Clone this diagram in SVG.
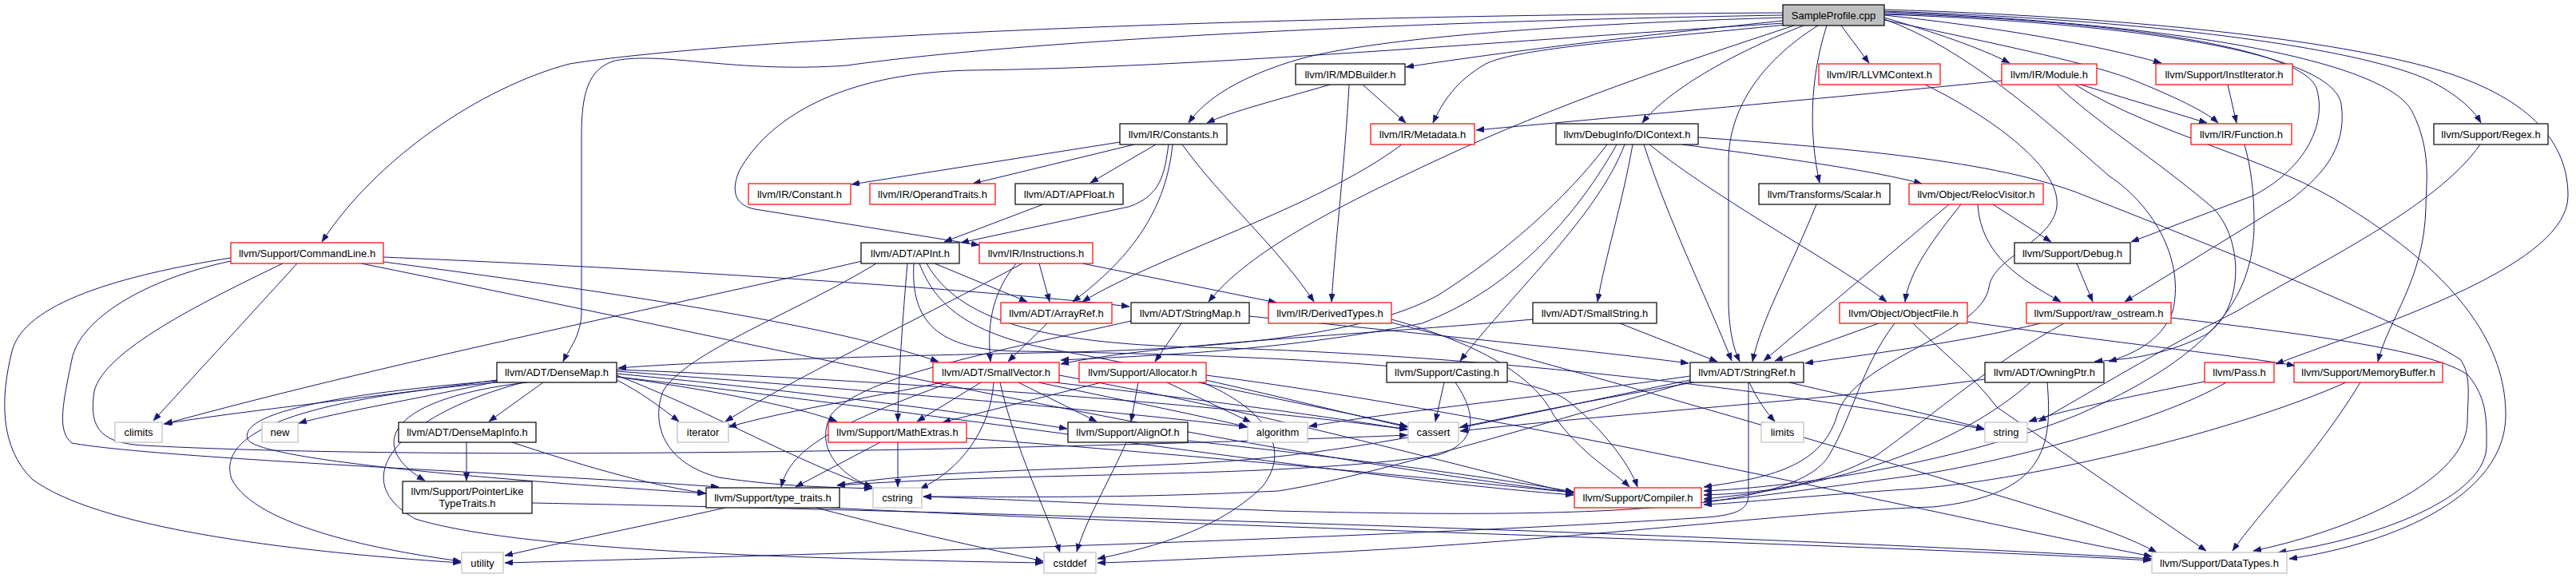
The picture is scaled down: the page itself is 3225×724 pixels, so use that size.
<svg xmlns="http://www.w3.org/2000/svg" width="3225" height="724" viewBox="0 0 3225 724">
<defs>
<style>
.e{fill:none;stroke:#191970;stroke-width:1;marker-end:url(#a)}
.b rect{fill:#fff;stroke:#000;stroke-width:1.2}
.r rect{fill:#fff;stroke:#ff0000;stroke-width:1.2}
.g rect{fill:#fff;stroke:#bfbfbf;stroke-width:1.2}
.root rect{fill:#bfbfbf;stroke:#000;stroke-width:1.2}
text{font-family:"Liberation Sans",Arial,sans-serif;font-size:13px;text-anchor:middle;fill:#000}
</style>
<marker id="a" markerUnits="userSpaceOnUse" markerWidth="11" markerHeight="8" refX="10" refY="3.75" orient="auto"><path d="M0,0 L10,3.75 L0,7.5 z" fill="#191970" stroke="#191970" stroke-width="0.5"/></marker>
</defs>
<rect width="3225" height="724" fill="#fff"/>
<g id="edges">
<path class="e" d="M2232,16 C1500,20 900,50 713,80 C600,110 470,200 403,303"/>
<path class="e" d="M2232,19 C1800,26 1300,48 1060,82 C920,92 830,64 770,76 C735,86 728,120 728,170 L728,390 C728,420 712,438 705,453"/>
<path class="e" d="M2234,29 C1900,50 1500,85 1213,88 C1050,92 960,150 925,215 C913,245 925,258 945,262 L1226,307"/>
<path class="e" d="M2232,26 C2000,50 1850,70 1760,84"/>
<path class="e" d="M2233,22 C1900,32 1700,52 1620,76 C1555,96 1510,122 1488,154"/>
<path class="e" d="M2236,31 C2050,50 1900,60 1860,80 C1822,102 1806,128 1794,154"/>
<path class="e" d="M2258,32 C2180,62 2090,110 2056,154"/>
<path class="e" d="M2246,32 C2100,80 1950,130 1800,200 C1650,270 1560,320 1513,378"/>
<path class="e" d="M2287,32 C2265,100 2265,170 2278,229"/>
<path class="e" d="M2305,32 L2340,79"/>
<path class="e" d="M2276,32 C2200,80 2165,140 2164,200 L2164,380 C2165,420 2172,440 2178,453"/>
<path class="e" d="M2359,22 C2420,40 2480,60 2516,79"/>
<path class="e" d="M2359,19 C2500,34 2620,55 2706,79"/>
<path class="e" d="M2359,25 C2500,55 2620,80 2670,100 C2720,120 2762,140 2777,154"/>
<path class="e" d="M2359,14 C2700,25 2950,60 3040,100 C3075,118 3095,135 3106,154"/>
<path class="e" d="M2359,17 C2650,25 2880,60 2900,110 C2915,160 2880,215 2821,245 L2668,303"/>
<path class="e" d="M2359,18 C2700,30 2920,70 2931,130 C2940,190 2900,225 2868,250 L2660,378"/>
<path class="e" d="M2359,15 C2750,30 2990,80 3020,140 C3045,190 3037,230 3037,260 C3035,350 2990,400 2977,453"/>
<path class="e" d="M2359,12 C2700,22 2950,55 3060,90 C3170,125 3215,180 3215,245 C3215,330 3000,400 2849,456"/>
<path class="e" d="M2359,24 C2460,60 2560,150 2640,220 C2700,260 2735,330 2720,390 C2705,430 2665,445 2640,453"/>
<path class="e" d="M1665,106 C1600,125 1540,140 1511,154"/>
<path class="e" d="M1706,106 L1760,154"/>
<path class="e" d="M1689,106 C1684,200 1672,300 1667,378"/>
<path class="e" d="M1755,181 C1650,260 1450,320 1355,378"/>
<path class="e" d="M2506,101 C2400,112 2100,140 1848,163"/>
<path class="e" d="M2605,106 L2763,154"/>
<path class="e" d="M2575,106 C2620,150 2700,200 2770,260 C2810,300 2810,390 2760,420 C2700,450 2650,450 2622,453"/>
<path class="e" d="M2598,106 C2700,170 2850,200 2940,260 C3100,360 3137,450 3137,520 C3137,620 3000,680 2866,700"/>
<path class="e" d="M2789,106 L2800,154"/>
<path class="e" d="M2410,106 C2480,140 2570,200 2575,250 C2580,300 2495,320 2490,360 C2480,420 2320,450 2300,520 C2280,590 2200,600 2133,610"/>
<path class="e" d="M2810,181 C2818,210 2822,240 2822,280 C2822,380 2760,450 2600,520 C2450,580 2250,610 2133,615"/>
<path class="e" d="M3105,181 C3050,260 2900,330 2800,390 C2700,440 2620,490 2552,528"/>
<path class="e" d="M1402,178 L1066,231"/>
<path class="e" d="M1420,181 L1218,230"/>
<path class="e" d="M1447,181 L1365,229"/>
<path class="e" d="M1463,181 C1458,215 1455,245 1413,259 L1203,304"/>
<path class="e" d="M1468,181 C1460,260 1420,320 1343,378"/>
<path class="e" d="M1480,181 C1530,250 1600,310 1645,378"/>
<path class="e" d="M1306,256 L1182,303"/>
<path class="e" d="M2012,181 C1960,250 1880,320 1800,370 C1700,425 1500,438 1300,442 C1000,448 850,455 774,461"/>
<path class="e" d="M2024,181 C1980,260 1900,360 1780,405 C1600,440 1450,445 1328,451"/>
<path class="e" d="M2034,181 C2000,270 1900,360 1828,452"/>
<path class="e" d="M2044,181 C2030,260 2010,320 2000,378"/>
<path class="e" d="M2058,181 C2090,280 2140,380 2168,452"/>
<path class="e" d="M2065,181 C2150,250 2300,330 2362,378"/>
<path class="e" d="M2106,181 C2250,200 2350,215 2406,230"/>
<path class="e" d="M2126,172 C2300,185 2500,200 2610,245 C2800,320 3000,400 3080,450 C3095,470 3089,500 3089,530 C3085,610 2920,670 2821,690"/>
<path class="e" d="M2274,256 C2240,340 2205,400 2194,453"/>
<path class="e" d="M2455,256 C2420,300 2390,340 2385,378"/>
<path class="e" d="M2440,256 L2208,452"/>
<path class="e" d="M2476,256 C2480,320 2530,350 2580,378"/>
<path class="e" d="M2495,256 L2568,303"/>
<path class="e" d="M1079,327 C900,370 500,450 206,531"/>
<path class="e" d="M1136,330 C1130,400 1125,470 1124,528"/>
<path class="e" d="M1097,330 C1000,390 860,440 830,490 C815,530 830,580 900,598 C980,610 1040,610 1092,612"/>
<path class="e" d="M1170,330 L1286,378"/>
<path class="e" d="M1144,330 C1140,400 1170,440 1280,440 C1600,445 1900,460 1960,500 C2000,530 2040,580 2050,610"/>
<path class="e" d="M1151,330 C1170,380 1210,420 1330,440 C1500,470 1650,510 1762,535"/>
<path class="e" d="M1160,330 C1200,400 1300,430 1500,435 C1900,445 2300,500 2484,538"/>
<path class="e" d="M1301,330 L1314,378"/>
<path class="e" d="M1272,330 C1240,370 1236,410 1240,453"/>
<path class="e" d="M1280,330 C1150,400 1000,470 908,528"/>
<path class="e" d="M1355,330 L1598,379"/>
<path class="e" d="M1311,405 L1262,453"/>
<path class="e" d="M1416,402 C1250,440 1080,470 1040,520 C1020,560 1050,595 1092,610"/>
<path class="e" d="M1479,405 L1446,453"/>
<path class="e" d="M1564,396 C1800,420 2000,440 2114,455"/>
<path class="e" d="M1742,400 C1850,430 1920,470 1945,520 C1980,570 2020,590 2040,610"/>
<path class="e" d="M1742,404 C2000,470 2300,560 2500,620 C2600,650 2660,670 2700,692"/>
<path class="e" d="M1919,400 C1700,420 1450,430 1328,456"/>
<path class="e" d="M2028,405 L2150,453"/>
<path class="e" d="M2352,405 L2222,452"/>
<path class="e" d="M2372,405 C2330,460 2320,520 2290,570 C2250,640 2000,650 1600,640 C1400,632 1250,625 1156,622"/>
<path class="e" d="M2463,403 C2650,430 2800,445 2873,458"/>
<path class="e" d="M2395,405 C2430,440 2470,470 2500,510 L2762,690"/>
<path class="e" d="M2600,330 L2620,378"/>
<path class="e" d="M2555,405 C2450,430 2330,445 2260,455"/>
<path class="e" d="M2584,405 C2500,450 2420,520 2350,570 C2280,610 2200,618 2133,620"/>
<path class="e" d="M2718,398 C2900,420 3050,440 3090,470 C3115,500 3113,530 3113,560 C3110,630 2950,680 2852,692"/>
<path class="e" d="M2485,475 C2300,500 2000,520 1828,540"/>
<path class="e" d="M2542,479 C2450,560 2300,610 2133,625"/>
<path class="e" d="M2563,479 C2570,560 2560,620 2420,635 C2250,640 1950,680 1600,695 C1500,700 1420,704 1374,705"/>
<path class="e" d="M2760,478 C2650,500 2580,515 2540,528"/>
<path class="e" d="M2787,479 C2700,530 2500,580 2400,595 C2250,615 2180,625 2133,628"/>
<path class="e" d="M2937,479 C2800,540 2550,600 2400,612 C2250,622 2180,630 2133,632"/>
<path class="e" d="M2955,479 C2900,570 2830,640 2795,690"/>
<path class="e" d="M289,323 C150,345 30,380 15,440 C0,500 0,560 40,600 C120,660 350,690 577,705"/>
<path class="e" d="M289,327 C180,350 100,400 90,450 C80,500 70,540 90,555 C200,575 700,595 900,610"/>
<path class="e" d="M354,330 C250,380 130,440 118,490 C110,540 130,555 180,558 C600,580 1400,560 1762,545"/>
<path class="e" d="M372,330 L192,527"/>
<path class="e" d="M480,322 C900,340 1250,365 1414,384"/>
<path class="e" d="M480,328 C800,370 1050,410 1175,453"/>
<path class="e" d="M452,330 C900,420 1500,560 1970,617"/>
<path class="e" d="M622,476 C450,500 300,515 205,531"/>
<path class="e" d="M622,478 C520,500 430,515 374,530"/>
<path class="e" d="M680,479 L612,528"/>
<path class="e" d="M622,479 C380,500 270,540 290,600 C320,660 480,690 577,703"/>
<path class="e" d="M622,477 C400,495 300,520 310,550 C320,575 600,600 884,618"/>
<path class="e" d="M660,479 C480,500 460,560 532,602"/>
<path class="e" d="M655,479 C500,520 430,600 520,650 C650,690 1000,700 1306,705"/>
<path class="e" d="M772,476 C800,490 825,508 850,528"/>
<path class="e" d="M772,472 C900,490 1000,510 1048,528"/>
<path class="e" d="M772,468 C1000,490 1200,515 1336,537"/>
<path class="e" d="M772,465 C1100,490 1400,515 1561,535"/>
<path class="e" d="M772,463 C1200,480 1600,515 1762,538"/>
<path class="e" d="M772,470 C900,520 1000,580 1092,610"/>
<path class="e" d="M772,472 C1200,520 1700,600 1970,620"/>
<path class="e" d="M584,554 L584,602"/>
<path class="e" d="M641,554 C720,580 800,605 883,618"/>
<path class="e" d="M666,630 C1200,640 2200,670 2694,700"/>
<path class="e" d="M908,636 C800,660 700,680 632,696"/>
<path class="e" d="M1022,636 C1150,670 1250,690 1306,703"/>
<path class="e" d="M1040,636 C1500,660 2300,680 2693,702"/>
<path class="e" d="M1102,554 L996,610"/>
<path class="e" d="M1124,554 L1124,610"/>
<path class="e" d="M1210,549 C1500,570 1800,600 1970,617"/>
<path class="e" d="M1410,554 C1390,600 1360,650 1348,691"/>
<path class="e" d="M1487,552 C1700,575 1880,600 1970,616"/>
<path class="e" d="M1180,479 C1080,500 980,515 912,535"/>
<path class="e" d="M1228,479 L1148,528"/>
<path class="e" d="M1275,479 L1373,528"/>
<path class="e" d="M1300,479 C1400,500 1500,520 1562,535"/>
<path class="e" d="M1320,479 C1500,500 1650,520 1762,538"/>
<path class="e" d="M1252,479 C1270,560 1310,640 1327,692"/>
<path class="e" d="M1244,479 C1240,540 1200,590 1152,612"/>
<path class="e" d="M1190,479 C1050,530 990,560 978,610"/>
<path class="e" d="M1326,470 C1600,520 1850,590 1970,618"/>
<path class="e" d="M1379,479 L1180,529"/>
<path class="e" d="M1425,479 L1416,528"/>
<path class="e" d="M1461,479 L1566,529"/>
<path class="e" d="M1500,479 C1600,500 1700,520 1762,534"/>
<path class="e" d="M1505,479 C1580,510 1620,560 1580,610 C1520,670 1420,690 1374,700"/>
<path class="e" d="M1510,470 C1900,520 2400,640 2694,697"/>
<path class="e" d="M1808,479 L1797,528"/>
<path class="e" d="M1822,479 C1850,520 1850,555 1800,570 C1600,600 1300,590 1048,608"/>
<path class="e" d="M2116,476 C1900,520 1700,570 1500,580 C1300,590 1150,590 1048,608"/>
<path class="e" d="M2116,478 C1900,540 1700,600 1600,615 C1400,625 1250,622 1156,622"/>
<path class="e" d="M2116,471 C1950,495 1750,515 1639,534"/>
<path class="e" d="M2120,479 C2000,500 1900,520 1828,535"/>
<path class="e" d="M2190,479 C2200,500 2210,515 2222,528"/>
<path class="e" d="M2240,479 C2330,500 2420,520 2484,537"/>
<path class="e" d="M2189,479 L2189,620 C2189,640 2170,645 2137,648 C1800,670 1200,690 632,705"/>
</g>
<g id="n_root" class="root"><rect x="2232" y="6" width="127" height="26"/><text x="2295.5" y="23.5">SampleProfile.cpp</text></g>
<g id="n_mdbuilder" class="b"><rect x="1622" y="80" width="137" height="26"/><text x="1690.5" y="97.5">llvm/IR/MDBuilder.h</text></g>
<g id="n_llvmcontext" class="r"><rect x="2277" y="80" width="152" height="26"/><text x="2353" y="97.5">llvm/IR/LLVMContext.h</text></g>
<g id="n_module" class="r"><rect x="2506" y="80" width="119" height="26"/><text x="2565.5" y="97.5">llvm/IR/Module.h</text></g>
<g id="n_institerator" class="r"><rect x="2699" y="80" width="171" height="26"/><text x="2784.5" y="97.5">llvm/Support/InstIterator.h</text></g>
<g id="n_constants" class="b"><rect x="1402" y="155" width="134" height="26"/><text x="1469" y="172.5">llvm/IR/Constants.h</text></g>
<g id="n_metadata" class="r"><rect x="1716" y="155" width="130" height="26"/><text x="1781" y="172.5">llvm/IR/Metadata.h</text></g>
<g id="n_dicontext" class="b"><rect x="1948" y="155" width="178" height="26"/><text x="2037" y="172.5">llvm/DebugInfo/DIContext.h</text></g>
<g id="n_function" class="r"><rect x="2743" y="155" width="126" height="26"/><text x="2806" y="172.5">llvm/IR/Function.h</text></g>
<g id="n_regex" class="b"><rect x="3047" y="155" width="143" height="26"/><text x="3118.5" y="172.5">llvm/Support/Regex.h</text></g>
<g id="n_constant" class="r"><rect x="937" y="230" width="128" height="26"/><text x="1001" y="247.5">llvm/IR/Constant.h</text></g>
<g id="n_operandtraits" class="r"><rect x="1089" y="230" width="157" height="26"/><text x="1167.5" y="247.5">llvm/IR/OperandTraits.h</text></g>
<g id="n_apfloat" class="b"><rect x="1271" y="230" width="135" height="26"/><text x="1338.5" y="247.5">llvm/ADT/APFloat.h</text></g>
<g id="n_scalar" class="b"><rect x="2202" y="230" width="164" height="26"/><text x="2284" y="247.5">llvm/Transforms/Scalar.h</text></g>
<g id="n_relocvisitor" class="r"><rect x="2390" y="230" width="168" height="26"/><text x="2474" y="247.5">llvm/Object/RelocVisitor.h</text></g>
<g id="n_commandline" class="r"><rect x="289" y="304" width="191" height="26"/><text x="384.5" y="321.5">llvm/Support/CommandLine.h</text></g>
<g id="n_apint" class="b"><rect x="1078" y="304" width="123" height="26"/><text x="1139.5" y="321.5">llvm/ADT/APInt.h</text></g>
<g id="n_instructions" class="r"><rect x="1226" y="304" width="142" height="26"/><text x="1297" y="321.5">llvm/IR/Instructions.h</text></g>
<g id="n_debug" class="b"><rect x="2522" y="304" width="145" height="26"/><text x="2594.5" y="321.5">llvm/Support/Debug.h</text></g>
<g id="n_arrayref" class="r"><rect x="1253" y="379" width="139" height="26"/><text x="1322.5" y="396.5">llvm/ADT/ArrayRef.h</text></g>
<g id="n_stringmap" class="b"><rect x="1416" y="379" width="148" height="26"/><text x="1490" y="396.5">llvm/ADT/StringMap.h</text></g>
<g id="n_derivedtypes" class="r"><rect x="1588" y="379" width="154" height="26"/><text x="1665" y="396.5">llvm/IR/DerivedTypes.h</text></g>
<g id="n_smallstring" class="b"><rect x="1919" y="379" width="155" height="26"/><text x="1996.5" y="396.5">llvm/ADT/SmallString.h</text></g>
<g id="n_objectfile" class="r"><rect x="2303" y="379" width="160" height="26"/><text x="2383" y="396.5">llvm/Object/ObjectFile.h</text></g>
<g id="n_raw_ostream" class="r"><rect x="2537" y="379" width="181" height="26"/><text x="2627.5" y="396.5">llvm/Support/raw_ostream.h</text></g>
<g id="n_densemap" class="b"><rect x="622" y="454" width="150" height="25"/><text x="697" y="471">llvm/ADT/DenseMap.h</text></g>
<g id="n_smallvector" class="r"><rect x="1168" y="454" width="158" height="25"/><text x="1247" y="471">llvm/ADT/SmallVector.h</text></g>
<g id="n_allocator" class="r"><rect x="1351" y="454" width="159" height="25"/><text x="1430.5" y="471">llvm/Support/Allocator.h</text></g>
<g id="n_casting" class="b"><rect x="1736" y="454" width="151" height="25"/><text x="1811.5" y="471">llvm/Support/Casting.h</text></g>
<g id="n_stringref" class="b"><rect x="2116" y="454" width="142" height="25"/><text x="2187" y="471">llvm/ADT/StringRef.h</text></g>
<g id="n_owningptr" class="b"><rect x="2485" y="454" width="149" height="25"/><text x="2559.5" y="471">llvm/ADT/OwningPtr.h</text></g>
<g id="n_pass" class="r"><rect x="2760" y="454" width="87" height="25"/><text x="2803.5" y="471">llvm/Pass.h</text></g>
<g id="n_memorybuffer" class="r"><rect x="2872" y="454" width="186" height="25"/><text x="2965" y="471">llvm/Support/MemoryBuffer.h</text></g>
<g id="n_climits" class="g"><rect x="144" y="529" width="59" height="25"/><text x="173.5" y="546">climits</text></g>
<g id="n_new" class="g"><rect x="328" y="529" width="45" height="25"/><text x="350.5" y="546">new</text></g>
<g id="n_densemapinfo" class="b"><rect x="499" y="529" width="172" height="25"/><text x="585" y="546">llvm/ADT/DenseMapInfo.h</text></g>
<g id="n_iterator" class="g"><rect x="848" y="529" width="64" height="25"/><text x="880" y="546">iterator</text></g>
<g id="n_mathextras" class="r"><rect x="1037" y="529" width="173" height="25"/><text x="1123.5" y="546">llvm/Support/MathExtras.h</text></g>
<g id="n_alignof" class="b"><rect x="1337" y="529" width="150" height="25"/><text x="1412" y="546">llvm/Support/AlignOf.h</text></g>
<g id="n_algorithm" class="g"><rect x="1562" y="529" width="75" height="25"/><text x="1599.5" y="546">algorithm</text></g>
<g id="n_cassert" class="g"><rect x="1763" y="529" width="63" height="25"/><text x="1794.5" y="546">cassert</text></g>
<g id="n_limits" class="g"><rect x="2205" y="529" width="53" height="25"/><text x="2231.5" y="546">limits</text></g>
<g id="n_string" class="g"><rect x="2485" y="529" width="53" height="25"/><text x="2511.5" y="546">string</text></g>
<g id="n_pointerliketypetraits" class="b"><rect x="504" y="603" width="162" height="40"/><text x="585" y="619.5">llvm/Support/PointerLike</text><text x="585" y="634.5">TypeTraits.h</text></g>
<g id="n_type_traits" class="b"><rect x="884" y="611" width="167" height="25"/><text x="967.5" y="628">llvm/Support/type_traits.h</text></g>
<g id="n_cstring" class="g"><rect x="1093" y="611" width="61" height="25"/><text x="1123.5" y="628">cstring</text></g>
<g id="n_compiler" class="r"><rect x="1971" y="611" width="159" height="25"/><text x="2050.5" y="628">llvm/Support/Compiler.h</text></g>
<g id="n_utility" class="g"><rect x="578" y="692" width="52" height="26"/><text x="604" y="709.5">utility</text></g>
<g id="n_cstddef" class="g"><rect x="1307" y="692" width="65" height="26"/><text x="1339.5" y="709.5">cstddef</text></g>
<g id="n_datatypes" class="g"><rect x="2694" y="692" width="169" height="26"/><text x="2778.5" y="709.5">llvm/Support/DataTypes.h</text></g>
</svg>
